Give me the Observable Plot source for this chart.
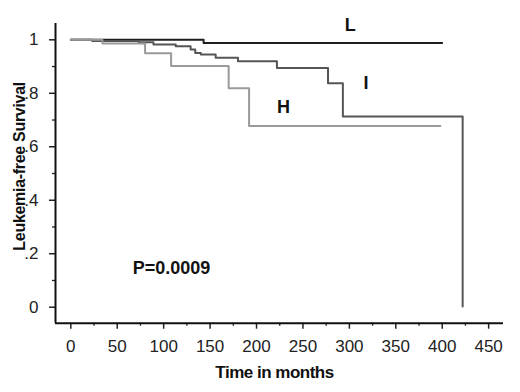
<!DOCTYPE html>
<html>
<head>
<meta charset="utf-8">
<script src="https://cdn.jsdelivr.net/npm/d3@7"></script>
<script src="https://cdn.jsdelivr.net/npm/@observablehq/plot@0.6"></script>
<style>
  html, body { margin: 0; padding: 0; background: #fff; }
  #chart svg { display: block; }
</style>
</head>
<body>
<div id="chart"></div>
<script>
// ---- Data ----
const groups = ["L", "I", "H"];
const timeL = [0, 143, 400];
const survL = [1, 0.988, 0.988];
const timeI = [0, 23, 73, 89, 113, 129, 134, 140, 156, 180, 222, 277, 293, 422, 422];
const survI = [1, 0.996, 0.991, 0.982, 0.976, 0.964, 0.951, 0.945, 0.933, 0.920, 0.895, 0.838, 0.713, 0.713, 0.003];
const timeH = [0, 34, 80, 108, 170, 192, 398];
const survH = [1, 0.986, 0.950, 0.902, 0.819, 0.678, 0.678];
const xTicks = [0, 50, 100, 150, 200, 250, 300, 350, 400, 450];
const xMinorTicks = [25, 75, 125, 175, 225, 275, 325, 375, 425];
const yTicks = [0, 0.2, 0.4, 0.6, 0.8, 1];
const yTickLabels = ["0", ".2", ".4", ".6", ".8", "1"];
const yMinorTicks = [0.1, 0.3, 0.5, 0.7, 0.9];
const pValueText = "P=0.0009";
const xTitle = "Time in months";
const yTitle = "Leukemia-free Survival";

// annotation anchors in data units
const groupLabels = [
  {name: "L", t: 301, s: 1.053},
  {name: "I", t: 318, s: 0.837},
  {name: "H", t: 229, s: 0.747}
];
const pLabel = [{text: pValueText, t: 108.5, s: 0.145}];

const toRows = (g, ts, ss) => ts.map((t, i) => ({group: g, t, s: ss[i]}));
const rowsL = toRows("L", timeL, survL);
const rowsI = toRows("I", timeI, survI);
const rowsH = toRows("H", timeH, survH);

const colors = {L: "#1e1e1e", I: "#555555", H: "#9a9a9a"};
const xDomain = [-16.5, 466];
const yDomain = [-0.0598, 1.061];
const font = "'Liberation Sans', Arial, sans-serif";

const chart = Plot.plot({
  width: 520,
  height: 392,
  marginLeft: 55,
  marginRight: 17,
  marginTop: 23,
  marginBottom: 69.3,
  style: {fontFamily: font, background: "#fff", color: "#222"},
  x: {domain: xDomain, label: null},
  y: {domain: yDomain, label: null},
  marks: [
    Plot.axisX({ticks: xMinorTicks, tickSize: 3, tickFormat: () => "", strokeWidth: 1.3, stroke: "#222", label: null}),
    Plot.axisY({ticks: yMinorTicks, tickSize: 3, tickFormat: () => "", strokeWidth: 1.3, stroke: "#222", label: null}),
    Plot.axisX({ticks: xTicks, tickSize: 6, tickPadding: 11, fontSize: 17, strokeWidth: 1.5, stroke: "#222", fill: "#222", label: null}),
    Plot.axisY({ticks: yTicks, tickSize: 6, tickPadding: 11, fontSize: 17, strokeWidth: 1.5, stroke: "#222", fill: "#222", label: null,
      tickFormat: d => yTickLabels[yTicks.indexOf(d)]}),
    Plot.ruleX([xDomain[0]], {stroke: "#111", strokeWidth: 2}),
    Plot.ruleY([yDomain[0]], {stroke: "#111", strokeWidth: 2}),
    Plot.line(rowsL, {x: "t", y: "s", curve: "step-after", stroke: colors.L, strokeWidth: 2}),
    Plot.line(rowsI, {x: "t", y: "s", curve: "step-after", stroke: colors.I, strokeWidth: 2}),
    Plot.line(rowsH, {x: "t", y: "s", curve: "step-after", stroke: colors.H, strokeWidth: 2}),
    Plot.text(groupLabels, {x: "t", y: "s", text: "name", fontSize: 18, fontWeight: "bold", fill: "#111"}),
    Plot.text(pLabel, {x: "t", y: "s", text: "text", fontSize: 18, fontWeight: "bold", fill: "#111"}),
    Plot.text([xTitle], {frameAnchor: "bottom", dx: -5, dy: 55, text: d => d, fontSize: 17, fontWeight: "bold", fill: "#111"}),
    Plot.text([yTitle], {frameAnchor: "left", textAnchor: "middle", dx: -36, dy: -7, rotate: -90, text: d => d, fontSize: 16, fontWeight: "bold", fill: "#111"})
  ]
});
chart.querySelectorAll("text").forEach(t => {
  if (t.textContent === xTitle) t.style.letterSpacing = "-0.5px";
  if (t.textContent === yTitle) t.style.letterSpacing = "-0.3px";
});
document.getElementById("chart").appendChild(chart);
</script>
</body>
</html>
